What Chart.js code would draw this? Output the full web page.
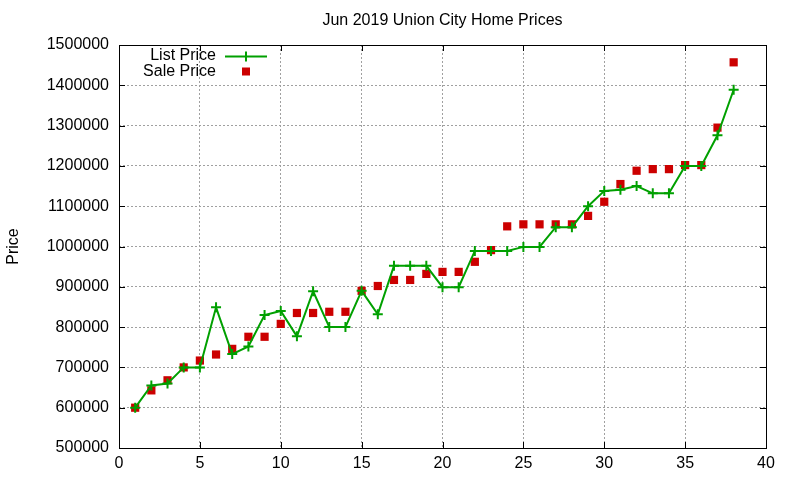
<!DOCTYPE html>
<html>
<head>
<meta charset="utf-8">
<title>Jun 2019 Union City Home Prices</title>
<script src="https://cdn.jsdelivr.net/npm/chart.js@4.4.1/dist/chart.umd.min.js"></script>
<style>
    html, body { margin: 0; padding: 0; background: #ffffff; }
    #wrap { width: 800px; height: 480px; }
</style>
</head>
<body>
<div id="wrap"><canvas id="priceChart" width="800" height="480"></canvas></div>
<script>
// Listing number (x axis)
const listings = [1, 2, 3, 4, 5, 6, 7, 8, 9, 10, 11, 12, 13, 14, 15, 16, 17, 18, 19, 20,
    21, 22, 23, 24, 25, 26, 27, 28, 29, 30, 31, 32, 33, 34, 35, 36, 37, 38];

// Asking prices
const listPrice = [600000, 655000, 660000, 700000, 700000, 849000, 733000, 752000, 830000, 840000,
    777000, 889000, 800000, 800000, 890000, 832000, 952000, 952000, 952000, 899000,
    899000, 989000, 989000, 989000, 999000, 999000, 1048000, 1048000, 1100000, 1138000,
    1141000, 1150000, 1132000, 1132000, 1200000, 1200000, 1276000, 1389000];

// Sold prices
const salePrice = [600000, 643000, 668000, 700000, 717000, 732000, 746000, 776000, 776000, 808000,
    835000, 835000, 838000, 838000, 890000, 902000, 917000, 917000, 932000, 937000,
    937000, 962000, 991000, 1050000, 1055000, 1055000, 1055000, 1055000, 1076000, 1111000,
    1155000, 1188000, 1192000, 1192000, 1202000, 1202000, 1295000, 1457000];

const chartTitle = 'Jun 2019 Union City Home Prices';
const yAxisLabel = 'Price';

const FONT = '"Liberation Sans", Arial, sans-serif';
const GREEN = '#00a000';
const RED = '#cc0000';

Chart.defaults.font.family = FONT;
Chart.defaults.font.size = 16;
Chart.defaults.color = '#000000';

// gnuplot style frame: border, inward tics on all sides, title and key
const gnuplotFrame = {
    id: 'gnuplotFrame',
    afterDraw(chart) {
        const ctx = chart.ctx;
        const area = chart.chartArea;
        const xs = chart.scales.x;
        const ys = chart.scales.y;
        const tic = 6;

        ctx.save();
        ctx.strokeStyle = '#000000';
        ctx.lineWidth = 1;
        ctx.beginPath();
        xs.ticks.forEach(t => {
            const px = Math.round(xs.getPixelForValue(t.value)) + 0.5;
            ctx.moveTo(px, area.bottom); ctx.lineTo(px, area.bottom - tic);
            ctx.moveTo(px, area.top); ctx.lineTo(px, area.top + tic);
        });
        ys.ticks.forEach(t => {
            const py = Math.round(ys.getPixelForValue(t.value)) + 0.5;
            ctx.moveTo(area.left, py); ctx.lineTo(area.left + tic, py);
            ctx.moveTo(area.right, py); ctx.lineTo(area.right - tic, py);
        });
        ctx.stroke();
        ctx.strokeRect(Math.round(area.left) + 0.5, Math.round(area.top) + 0.5,
            Math.round(area.right - area.left), Math.round(area.bottom - area.top));

        // title centred over the plot
        ctx.fillStyle = '#000000';
        ctx.font = '16px ' + FONT;
        ctx.textAlign = 'center';
        ctx.textBaseline = 'middle';
        ctx.fillText(chartTitle, (area.left + area.right) / 2, 21);

        // key in the top left corner
        const list = chart.data.datasets[0];
        const sale = chart.data.datasets[1];
        const textRight = 216;
        const sampleX = 246;
        ctx.textAlign = 'right';
        ctx.fillText(list.label, textRight, 56);
        ctx.fillText(sale.label, textRight, 72);

        ctx.strokeStyle = list.borderColor;
        ctx.lineWidth = 2;
        ctx.beginPath();
        ctx.moveTo(225, 56.5); ctx.lineTo(267, 56.5);
        ctx.moveTo(sampleX, 51.5); ctx.lineTo(sampleX, 61.5);
        ctx.stroke();

        ctx.fillStyle = sale.backgroundColor;
        ctx.fillRect(sampleX - 4, 71.5 - 4, 8, 8);
        ctx.restore();
    }
};

const ctx = document.getElementById('priceChart').getContext('2d');

new Chart(ctx, {
    type: 'line',
    data: {
        datasets: [
            {
                label: 'List Price',
                data: listings.map((n, i) => ({ x: n, y: listPrice[i] })),
                borderColor: GREEN,
                backgroundColor: GREEN,
                borderWidth: 2,
                pointStyle: 'cross',
                pointRadius: 5,
                pointBorderWidth: 2,
                pointHoverRadius: 5,
                tension: 0,
                fill: false
            },
            {
                label: 'Sale Price',
                data: listings.map((n, i) => ({ x: n, y: salePrice[i] })),
                showLine: false,
                borderColor: RED,
                backgroundColor: RED,
                borderWidth: 0,
                pointStyle: 'rect',
                pointRadius: 5.8,
                pointBorderWidth: 0,
                pointHoverRadius: 5.8
            }
        ]
    },
    options: {
        responsive: false,
        animation: false,
        layout: { padding: { left: 0, right: 34, top: 45, bottom: 0 } },
        plugins: {
            legend: { display: false },
            title: { display: false },
            tooltip: { enabled: false }
        },
        scales: {
            x: {
                type: 'linear',
                min: 0,
                max: 40,
                ticks: { stepSize: 5, padding: 6, font: { size: 16 } },
                grid: { color: '#a0a0a0', drawTicks: false, lineWidth: 1 },
                border: { display: false, dash: [2, 2] },
                afterFit(scale) { scale.height = 32; }
            },
            y: {
                min: 500000,
                max: 1500000,
                ticks: {
                    stepSize: 100000,
                    padding: 10,
                    font: { size: 16 },
                    callback: value => String(value)
                },
                grid: { color: '#a0a0a0', drawTicks: false, lineWidth: 1 },
                border: { display: false, dash: [2, 2] },
                title: {
                    display: true,
                    text: yAxisLabel,
                    font: { size: 16 },
                    padding: { top: 4, bottom: 0 }
                },
                afterFit(scale) { scale.width = 119; }
            }
        }
    },
    plugins: [gnuplotFrame]
});
</script>
</body>
</html>
